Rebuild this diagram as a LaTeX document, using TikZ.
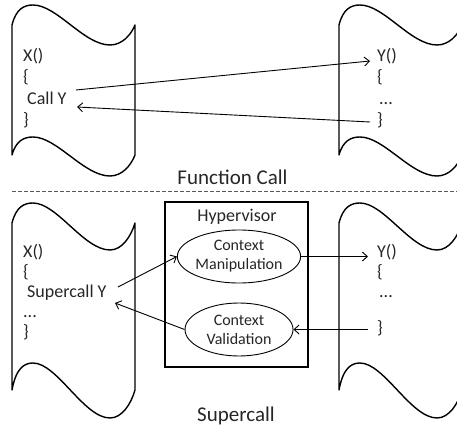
\documentclass[tikz,border=0pt]{standalone}
\usepackage{fontspec}
\setmainfont{Carlito}
\usetikzlibrary{arrows.meta,shapes.geometric}
\newcommand{\docshape}[7]{%
  \begin{scope}[shift={(#1,#2)}]
    \draw[shapeline] (0,0) -- (0,#3)
      .. controls (4,#3-0.8*#6) and (12,#3-#6) .. (21,#3-#6)
      .. controls (45,#3-#6) and (72,#3+#7) .. (98,#3+#7)
      .. controls (110,#3+#7) and (119,#3+0.5*#7) .. (123,#3)
      -- (123,0)
      .. controls (119,0.5*#5) and (110,#5) .. (98,#5)
      .. controls (72,#5) and (45,-#4) .. (21,-#4)
      .. controls (12,-#4) and (4,-0.8*#4) .. (0,0) -- cycle;
  \end{scope}}
\begin{document}
\begin{tikzpicture}[x=1pt,y=-1pt,
  shapeline/.style={line width=1.4pt, line join=round},
  code/.style={anchor=base west, inner sep=0pt, text=black!85, font=\fontsize{18}{21}\selectfont},
  title/.style={anchor=base, inner sep=0pt, text=black!85, font=\fontsize{21}{25}\selectfont},
  arr/.style={line width=0.9pt, -{Straight Barb[length=5pt,width=9pt]}},
  ell/.style={ellipse, draw, line width=0.9pt, minimum width=108pt, minimum height=53pt, inner sep=0pt, align=center, text=black!85, font=\fontsize{16}{19}\selectfont},
  hvbox/.style={draw, line width=1.3pt, minimum width=143pt, minimum height=165pt, inner sep=0pt},
  sep/.style={draw=black!65, line width=0.8pt, dash pattern=on 3.5pt off 2.5pt}
  ]
\useasboundingbox (0,0) rectangle (457,433);
\begin{scope}
  \clip (0,0) rectangle (457,433);
  % document shapes
  \docshape{12}{25}{130}{20}{20}{18}{21}
  \docshape{339}{25}{130}{20}{20}{18}{21}
  \docshape{12}{223}{167}{20}{27}{27}{28}
  \docshape{339}{223}{167}{20}{27}{27}{28}
\end{scope}

% separator
\draw[sep] (12,191) -- (457,191);

% top: function call
\node[code] (x1) at (23,62) {X()};
\node[code] (x1o) at (23,83) {\{};
\node[code] (cally) at (27,104) {Call Y};
\node[code] (x1c) at (23,125) {\}};

\node[code] (y1) at (377,62) {Y()};
\node[code] (y1o) at (377,83) {\{};
\node[code] (y1d) at (379,104) {...};
\node[code] (y1c) at (377,125) {\}};

\coordinate (a1s) at (76,90);
\coordinate (a1e) at (370,61);
\coordinate (a2s) at (370,122);
\coordinate (a2e) at (77,107);
\draw[arr] (a1s) -- (a1e);
\draw[arr] (a2s) -- (a2e);

\node[title] (fc) at (232.5,184) {Function Call};

% bottom: supercall
\node[code] (x2) at (23,257) {X()};
\node[code] (x2o) at (23,277) {\{};
\node[code] (scy) at (27,297) {Supercall Y};
\node[code] (x2d) at (23,317) {...};
\node[code] (x2c) at (23,337) {\}};

\node[code] (y2) at (377,257) {Y()};
\node[code] (y2o) at (377,277) {\{};
\node[code] (y2d) at (379,297) {...};
\node[code] (y2c) at (377,333) {\}};

\node[hvbox] (hv) at (236.5,284.5) {};
\node[code, anchor=base] (hvt) at (237,221) {Hypervisor};
\node[ell] (cm) at (239,256.5) {Context\\Manipulation};
\node[ell] (cv) at (239,329.5) {Context\\Validation};

\coordinate (b1s) at (118,287);
\coordinate (b2e) at (368,256.5);
\coordinate (b3s) at (368,329.5);
\coordinate (b4e) at (115,303);
\draw[arr] (b1s) -- (cm.west);
\draw[arr] (cm.east) -- (b2e);
\draw[arr] (b3s) -- (cv.east);
\draw[arr] (cv.west) -- (b4e);

\node[title] (sc) at (236,421) {Supercall};
\end{tikzpicture}
\end{document}
